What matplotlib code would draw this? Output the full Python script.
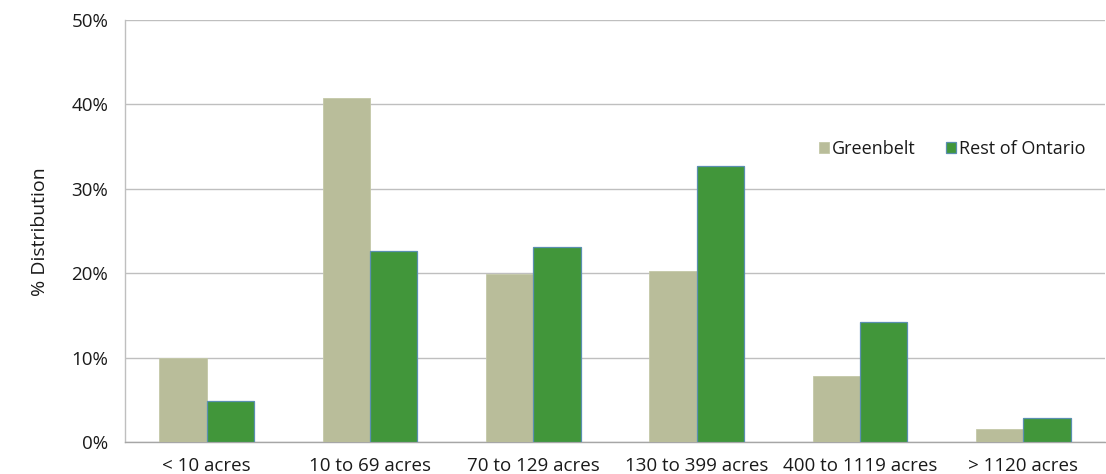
import matplotlib
matplotlib.use("Agg")
import matplotlib.pyplot as plt
import numpy as np

categories = ["< 10 acres", "10 to 69 acres", "70 to 129 acres", "130 to 399 acres",
              "400 to 1119 acres", "> 1120 acres"]
greenbelt = [9.9, 40.7, 19.9, 20.3, 7.8, 1.5]
rest_of_ontario = [4.8, 22.6, 23.1, 32.7, 14.2, 2.9]
yticks = [0, 10, 20, 30, 40, 50]
ytick_labels = ["0%", "10%", "20%", "30%", "40%", "50%"]

plt.rcParams['font.family'] = ['Open Sans', 'DejaVu Sans']

fig = plt.figure(figsize=(11.06, 4.74), dpi=100)
ax = fig.add_axes([125/1106, 1 - 442/474, (1105-125)/1106, (442-20)/474])

x = np.arange(len(categories))
w = 0.29
ax.bar(x - w/2, greenbelt, width=w, color="#B9BD9A", edgecolor="#C4C8A8", linewidth=0.6,
       label="Greenbelt", zorder=3)
ax.bar(x + w/2, rest_of_ontario, width=w, color="#41963A", edgecolor="#5A8FB0", linewidth=0.9,
       label="Rest of Ontario", zorder=3)

ax.set_xlim(-0.5, len(categories) - 0.5)
ax.set_ylim(0, 50)
ax.set_yticks(yticks)
ax.set_yticklabels(ytick_labels)
ax.set_xticks(x)
ax.set_xticklabels(categories)
ax.tick_params(axis='both', length=0, labelsize=13.5, colors="#1a1a1a")
ax.tick_params(axis='y', pad=12)
ax.tick_params(axis='x', pad=11)
ax.grid(axis='y', color="#BFBFBF", linewidth=1.0, zorder=0)
for s in ["top", "right"]:
    ax.spines[s].set_visible(False)
ax.spines["left"].set_color("#BFBFBF")
ax.spines["bottom"].set_color("#A6A6A6")
ax.spines["left"].set_linewidth(1.0)
ax.spines["bottom"].set_linewidth(1.0)

fig.text(40/1106, 1 - 232/474, "% Distribution", rotation=90, ha='center', va='center',
         fontsize=14, color="#1a1a1a")

leg = ax.legend(loc='center left', bbox_to_anchor=((819-125)/980, (442-149)/422), ncol=2,
                frameon=False, handlelength=0.55, handleheight=0.55, handletextpad=0.15,
                columnspacing=1.7, fontsize=13, borderaxespad=0, borderpad=0)
for t in leg.get_texts():
    t.set_color("#1a1a1a")

fig.savefig("out.png", dpi=100)
